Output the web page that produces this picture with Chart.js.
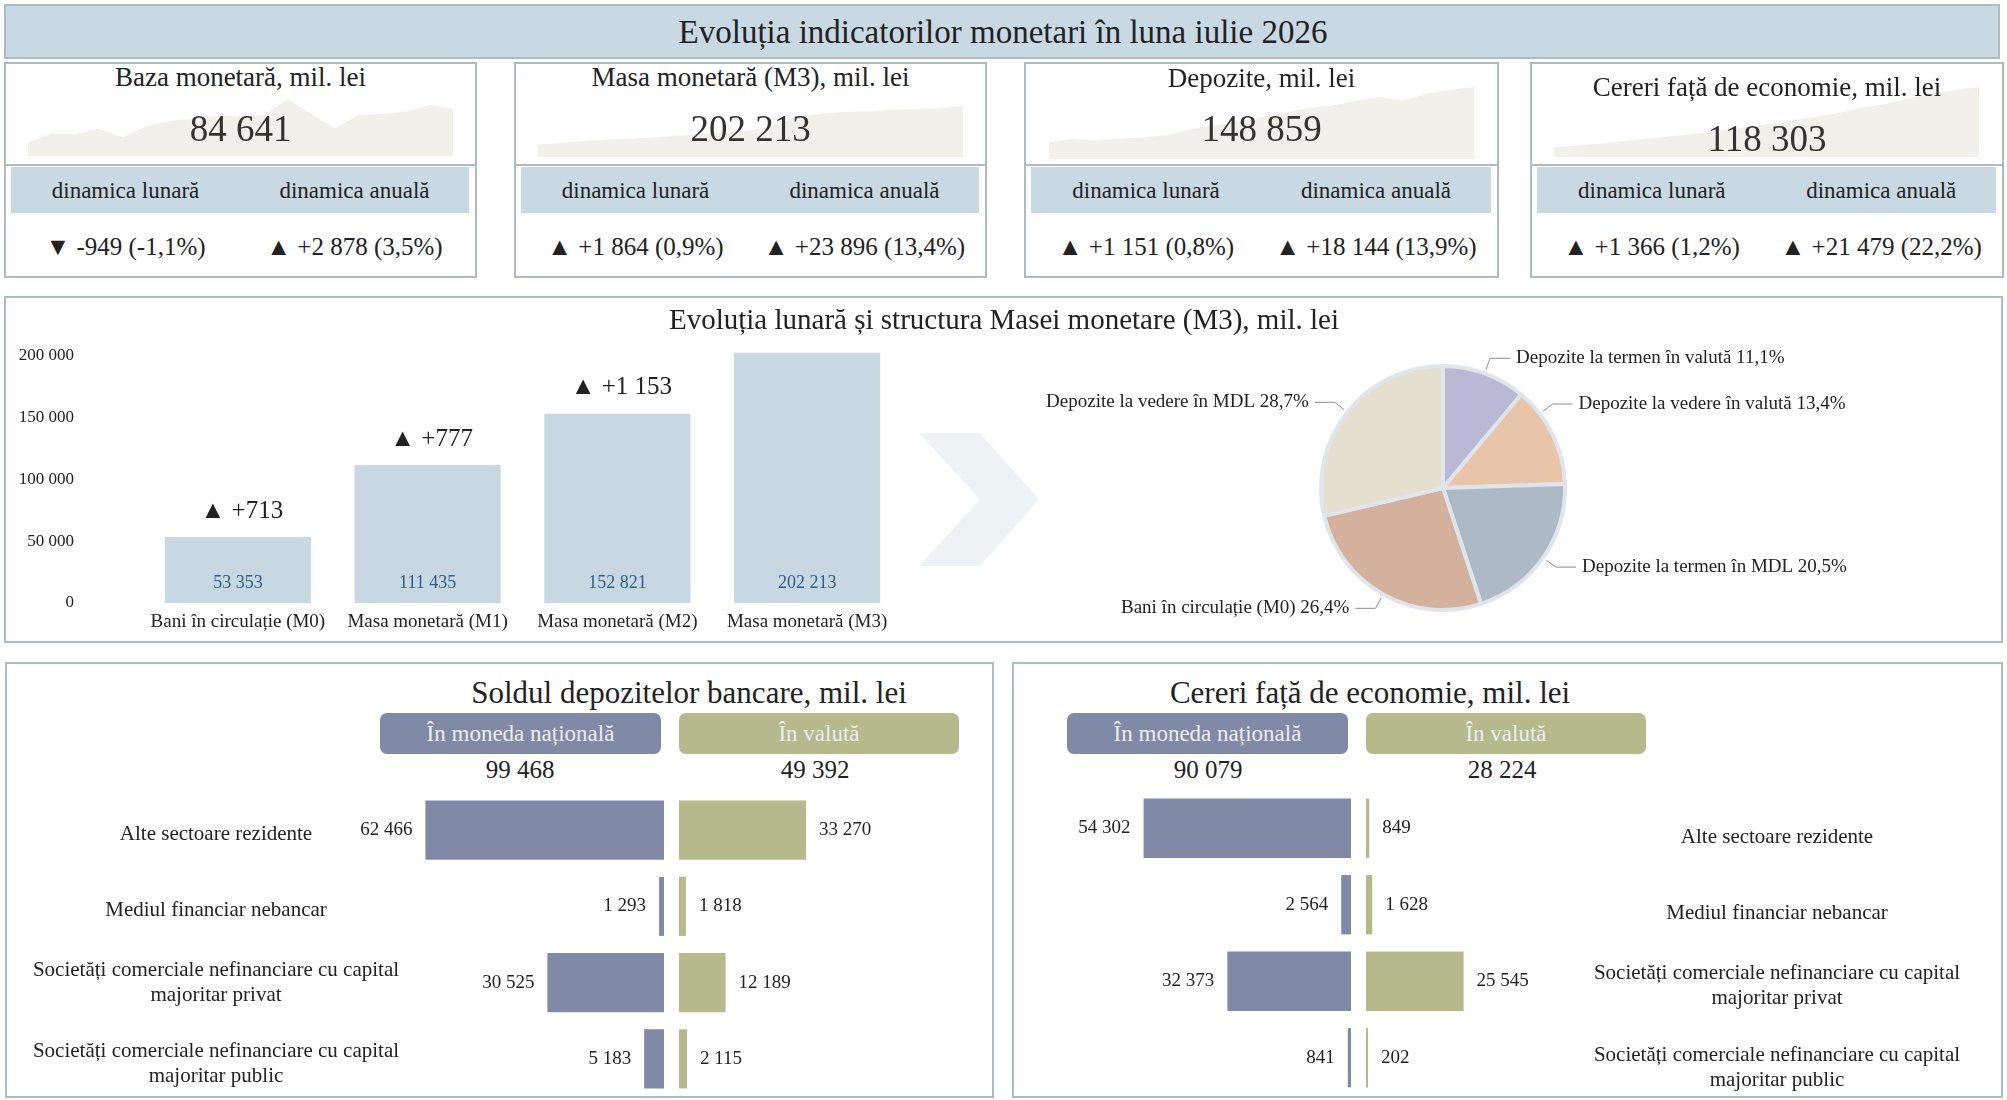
<!DOCTYPE html>
<html lang="ro">
<head>
<meta charset="UTF-8">
<title>Evoluția indicatorilor monetari</title>
<script src="https://cdn.jsdelivr.net/npm/chart.js"></script>
<style>
  body { margin:0; width:2007px; height:1100px; position:relative; overflow:hidden; background:#fff;
         font-family:"Liberation Serif","Times New Roman",serif; color:#222; }
  .abs { position:absolute; }
  .frame { position:absolute; border:2px solid #b0b9c6; box-sizing:border-box; }
  .ctr { position:absolute; text-align:center; white-space:nowrap; transform:translate(-50%,-50%); z-index:3; }
  .wrap { position:absolute; z-index:2; }
  .pill { position:absolute; border-radius:7px; color:#eceef3; font-size:23px; text-align:center; line-height:41px; height:41px; z-index:3; }
</style>
</head>
<body>

<div class="abs" style="left:4px;top:4px;width:1996px;height:55px;background:#c9d9e4;border:2px solid #b0b9c6;box-sizing:border-box;"></div>
<div class="ctr" style="left:1003px;top:32px;font-size:33px;">Evoluția indicatorilor monetari în luna iulie 2026</div>

<div id="kpis"></div>

<!-- structura M3 -->
<div class="frame" style="left:4px;top:296px;width:1999px;height:347px;"></div>
<div class="ctr" style="left:1004px;top:319px;font-size:29px;">Evoluția lunară și structura Masei monetare (M3), mil. lei</div>
<div class="wrap" style="left:10px;top:343px;width:892px;height:297px;"><canvas id="aggChart"></canvas></div>
<div class="abs" style="left:919px;top:433px;width:120px;height:133px;background:#edf2f5;
     clip-path:polygon(0 0,50.8% 0,100% 50%,50.8% 100%,0 100%,50.8% 50%);"></div>
<div class="wrap" style="left:1030px;top:330px;width:870px;height:310px;"><canvas id="pieChart"></canvas></div>

<!-- depozite -->
<div class="frame" style="left:5px;top:662px;width:989px;height:436px;"></div>
<div class="ctr" style="left:689px;top:693px;font-size:31px;">Soldul depozitelor bancare, mil. lei</div>
<div class="pill" style="left:380px;top:713px;width:281px;background:#8089a6;">În moneda națională</div>
<div class="pill" style="left:679px;top:713px;width:280px;background:#b6b98c;">În valută</div>
<div class="ctr" id="depTotN" style="left:520px;top:770px;font-size:25px;"></div>
<div class="ctr" id="depTotF" style="left:815px;top:770px;font-size:25px;"></div>
<div class="wrap" id="depN" style="left:20px;top:792px;width:644px;height:305px;"><canvas></canvas></div>
<div class="wrap" id="depF" style="left:679px;top:792px;width:300px;height:305px;"><canvas></canvas></div>

<!-- cereri -->
<div class="frame" style="left:1012px;top:662px;width:991px;height:436px;"></div>
<div class="ctr" style="left:1370px;top:693px;font-size:31px;">Cereri față de economie, mil. lei</div>
<div class="pill" style="left:1067px;top:713px;width:281px;background:#8089a6;">În moneda națională</div>
<div class="pill" style="left:1366px;top:713px;width:280px;background:#b6b98c;">În valută</div>
<div class="ctr" id="credTotN" style="left:1208px;top:770px;font-size:25px;"></div>
<div class="ctr" id="credTotF" style="left:1502px;top:770px;font-size:25px;"></div>
<div class="wrap" id="credN" style="left:1020px;top:790px;width:331px;height:306px;"><canvas></canvas></div>
<div class="wrap" id="credF" style="left:1366px;top:790px;width:630px;height:306px;"><canvas></canvas></div>

<script>
// ---- date ----
const months = ['ian.25','feb.25','mar.25','apr.25','mai.25','iun.25','iul.25','aug.25','sep.25','oct.25',
                'nov.25','dec.25','ian.26','feb.26','mar.26','apr.26','mai.26','iun.26','iul.26'];

const kpiTitles = ['Baza monetară, mil. lei', 'Masa monetară (M3), mil. lei', 'Depozite, mil. lei', 'Cereri față de economie, mil. lei'];
const kpiValues = [84641, 202213, 148859, 118303];
const monthlyChange = [-949, 1864, 1151, 1366];
const monthlyPct = [-1.1, 0.9, 0.8, 1.2];
const annualChange = [2878, 23896, 18144, 21479];
const annualPct = [3.5, 13.4, 13.9, 22.2];

// serii lunare (fundal)
const sparkBaza = [76640, 78800, 78560, 80000, 77840, 80560, 81763, 82400, 83040, 82960,
                   83200, 87040, 83520, 80000, 83200, 83440, 84000, 85590, 84641];
const sparkM3 = [170800, 172200, 173800, 174900, 175700, 176800, 178317, 179500, 180800, 182200,
                 186500, 193500, 196000, 197300, 197900, 199200, 199600, 200349, 202213];
const sparkDepozite = [124955, 126539, 125819, 126683, 127259, 128123, 130715, 132155, 134027, 135899,
                       137915, 139787, 140795, 142955, 144539, 143099, 145979, 147708, 148859];
const sparkCereri = [90403, 91333, 92263, 93348, 94588, 95673, 96824, 98153, 99548, 101098,
                     102803, 104353, 106213, 108693, 110398, 113033, 115203, 116937, 118303];

const aggLabels = ['Bani în circulație (M0)', 'Masa monetară (M1)', 'Masa monetară (M2)', 'Masa monetară (M3)'];
const aggValues = [53353, 111435, 152821, 202213];
const aggDelta = [713, 777, 1153, null];
const aggTicks = [0, 50000, 100000, 150000, 200000];

const structLabels = ['Depozite la termen în valută', 'Depozite la vedere în valută', 'Depozite la termen în MDL',
                      'Bani în circulație (M0)', 'Depozite la vedere în MDL'];
const structShares = [11.1, 13.4, 20.5, 26.4, 28.7];

const sectors = ['Alte sectoare rezidente', 'Mediul financiar nebancar',
                 ['Societăți comerciale nefinanciare cu capital', 'majoritar privat'],
                 ['Societăți comerciale nefinanciare cu capital', 'majoritar public']];
const depNational = [62466, 1293, 30525, 5183];
const depForeign = [33270, 1818, 12189, 2115];
const depTotals = [99468, 49392];
const credNational = [54302, 2564, 32373, 841];
const credForeign = [849, 1628, 25545, 202];
const credTotals = [90079, 28224];

// ---- stil ----
const SERIF = '"Liberation Serif", "Times New Roman", serif';
const structColors = ['#b9b9d5', '#e8c4a9', '#adbac6', '#d4b19c', '#e4dfcf'];
const labelAngleShift = [0, -11.5, 0, 0, 0];   // grade, doar pentru asezarea etichetelor
const PX_PER_UNIT = 0.00382;

Chart.defaults.font.family = SERIF;
Chart.defaults.color = '#222';
Chart.defaults.animation = false;
Chart.defaults.plugins.legend.display = false;
Chart.defaults.plugins.tooltip.enabled = false;

function fmt(n) {
  return Math.abs(n).toString().replace(/\B(?=(\d{3})+(?!\d))/g, ' ');
}
function pct(p) {
  return (p < 0 ? '-' : '') + Math.abs(p).toFixed(1).replace('.', ',');
}
function change(n, p) {
  return n < 0 ? '▼ -' + fmt(n) + ' (' + pct(p) + '%)' : '▲ +' + fmt(n) + ' (' + pct(p) + '%)';
}

// ---- carduri sus ----
const boxes = [
  {left:4, width:473, titleY:77, numY:128, spark:{x:28, y:99, w:425, h:57, min:73440, max:87040}, data:sparkBaza},
  {left:514, width:473, titleY:77, numY:128, spark:{x:538, y:106, w:425, h:51, min:160750, max:202213}, data:sparkM3},
  {left:1024, width:475, titleY:78, numY:128, spark:{x:1049, y:87, w:425, h:72, min:117899, max:148859}, data:sparkDepozite},
  {left:1530, width:474, titleY:87, numY:138, spark:{x:1554, y:87, w:425, h:70, min:86063, max:118303}, data:sparkCereri}
];

const kpis = document.getElementById('kpis');
boxes.forEach(function(b, i) {
  const cx = b.left + b.width / 2;
  let h = '';
  h += '<div class="frame" style="left:' + b.left + 'px;top:62px;width:' + b.width + 'px;height:104px;"></div>';
  h += '<div class="frame" style="left:' + b.left + 'px;top:164px;width:' + b.width + 'px;height:114px;"></div>';
  h += '<div class="abs" style="left:' + (b.left + 7) + 'px;top:167px;width:' + (b.width - 15) + 'px;height:46px;background:#c9d9e4;"></div>';
  h += '<div class="wrap" style="left:' + b.spark.x + 'px;top:' + b.spark.y + 'px;width:' + b.spark.w + 'px;height:' + b.spark.h + 'px;"><canvas id="spark' + i + '"></canvas></div>';
  h += '<div class="ctr" style="left:' + cx + 'px;top:' + b.titleY + 'px;font-size:27px;">' + kpiTitles[i] + '</div>';
  h += '<div class="ctr" style="left:' + cx + 'px;top:' + b.numY + 'px;font-size:37px;color:#333;">' + fmt(kpiValues[i]) + '</div>';
  const q = (b.width - 15) / 4;
  h += '<div class="ctr" style="left:' + (b.left + 7 + q) + 'px;top:191px;font-size:23px;">dinamica lunară</div>';
  h += '<div class="ctr" style="left:' + (b.left + 7 + 3 * q) + 'px;top:191px;font-size:23px;">dinamica anuală</div>';
  h += '<div class="ctr" style="left:' + (b.left + 7 + q) + 'px;top:247px;font-size:25px;">' + change(monthlyChange[i], monthlyPct[i]) + '</div>';
  h += '<div class="ctr" style="left:' + (b.left + 7 + 3 * q) + 'px;top:247px;font-size:25px;">' + change(annualChange[i], annualPct[i]) + '</div>';
  kpis.insertAdjacentHTML('beforeend', h);
});

boxes.forEach(function(b, i) {
  new Chart(document.getElementById('spark' + i), {
    type: 'line',
    data: { labels: months, datasets: [{ data: b.data, fill: 'start', backgroundColor: '#f1f0ea',
            borderWidth: 0, pointRadius: 0, tension: 0 }] },
    options: { responsive: true, maintainAspectRatio: false, layout: { padding: 0 },
      scales: { x: { display: false }, y: { display: false, min: b.spark.min, max: b.spark.max } } }
  });
});

// ---- agregate monetare ----
const aggLabelsPlugin = {
  id: 'aggLabels',
  afterDatasetsDraw(chart) {
    const ctx = chart.ctx;
    chart.getDatasetMeta(0).data.forEach(function(bar, i) {
      ctx.save();
      ctx.textAlign = 'center';
      ctx.textBaseline = 'middle';
      ctx.font = '18px ' + SERIF;
      ctx.fillStyle = '#2d5e8e';
      ctx.fillText(fmt(aggValues[i]), bar.x, bar.base - 20);
      if (aggDelta[i] !== null) {
        ctx.font = '25px ' + SERIF;
        ctx.fillStyle = '#222';
        ctx.fillText((aggDelta[i] >= 0 ? '▲ +' : '▼ -') + fmt(aggDelta[i]), bar.x + 4, bar.y - 26);
      }
      ctx.restore();
    });
  }
};

new Chart(document.getElementById('aggChart'), {
  type: 'bar',
  data: { labels: aggLabels, datasets: [{ data: aggValues, backgroundColor: '#c8d8e2',
          barPercentage: 0.77, categoryPercentage: 1 }] },
  options: {
    responsive: true, maintainAspectRatio: false, layout: { padding: 0 },
    scales: {
      x: { grid: { display: false, drawTicks: false }, border: { display: false },
           ticks: { font: { size: 19 }, padding: 8, autoSkip: false, maxRotation: 0 },
           afterFit(s) { s.height = 37; s.paddingLeft = 0; s.paddingRight = 0; } },
      y: { min: 0, max: 210000, grid: { display: false, drawTicks: false }, border: { display: false },
           ticks: { font: { size: 17 }, padding: 69, includeBounds: false, callback: v => fmt(v) },
           afterBuildTicks(s) { s.ticks = aggTicks.map(v => ({ value: v })); },
           afterFit(s) { s.width = 133; s.paddingTop = 0; s.paddingBottom = 0; } }
    }
  },
  plugins: [aggLabelsPlugin]
});

// ---- structura M3 ----
const pieLabelsPlugin = {
  id: 'pieLabels',
  afterDatasetsDraw(chart) {
    const ctx = chart.ctx;
    chart.getDatasetMeta(0).data.forEach(function(arc, i) {
      const p = arc.getProps(['x', 'y', 'startAngle', 'endAngle', 'outerRadius'], true);
      const a = (p.startAngle + p.endAngle) / 2 + labelAngleShift[i] * Math.PI / 180;
      const c = Math.cos(a), s = Math.sin(a);
      const x0 = p.x + (p.outerRadius + 4) * c, y0 = p.y + (p.outerRadius + 4) * s;
      const x1 = p.x + (p.outerRadius + 16) * c, y1 = p.y + (p.outerRadius + 16) * s;
      const dir = c >= 0 ? 1 : -1;
      const x2 = x1 + dir * 20;
      ctx.save();
      ctx.strokeStyle = '#8c8c8c';
      ctx.lineWidth = 1;
      ctx.beginPath();
      ctx.moveTo(x0, y0); ctx.lineTo(x1, y1); ctx.lineTo(x2, y1);
      ctx.stroke();
      ctx.font = '19px ' + SERIF;
      ctx.fillStyle = '#222';
      ctx.textBaseline = 'middle';
      ctx.textAlign = dir > 0 ? 'left' : 'right';
      ctx.fillText(structLabels[i] + ' ' + pct(structShares[i]) + '%', x2 + dir * 6, y1);
      ctx.restore();
    });
  }
};

new Chart(document.getElementById('pieChart'), {
  type: 'pie',
  data: { labels: structLabels, datasets: [{ data: structShares, backgroundColor: structColors,
          borderColor: '#dfe5eb', borderWidth: 4, hoverOffset: 0 }] },
  options: { responsive: true, maintainAspectRatio: false,
             layout: { padding: { left: 289, right: 333, top: 34, bottom: 28 } } },
  plugins: [pieLabelsPlugin]
});

// ---- grafice fluture ----
function sideChart(id, values, color, reverse, catX, catDy) {
  const wrap = document.getElementById(id);
  const w = wrap.clientWidth;
  const plugin = {
    id: 'side' + id,
    afterDatasetsDraw(chart) {
      const ctx = chart.ctx;
      chart.getDatasetMeta(0).data.forEach(function(bar, i) {
        ctx.save();
        ctx.font = '19px ' + SERIF;
        ctx.fillStyle = '#222';
        ctx.textBaseline = 'middle';
        ctx.textAlign = reverse ? 'right' : 'left';
        ctx.fillText(fmt(values[i]), bar.x + (reverse ? -13 : 13), bar.y);
        if (catX !== null) {
          ctx.font = '21px ' + SERIF;
          ctx.textAlign = 'center';
          const lines = Array.isArray(sectors[i]) ? sectors[i] : [sectors[i]];
          const y0 = (lines.length > 1 ? bar.y - 12.5 : bar.y + 4) + catDy + (i === 3 ? 5 : 0);
          lines.forEach(function(t, k) { ctx.fillText(t, catX, y0 + k * 25); });
        }
        ctx.restore();
      });
    }
  };
  new Chart(wrap.querySelector('canvas'), {
    type: 'bar',
    data: { labels: sectors, datasets: [{ data: values, backgroundColor: color,
            barPercentage: 0.775, categoryPercentage: 1, minBarLength: 2 }] },
    options: { indexAxis: 'y', responsive: true, maintainAspectRatio: false, layout: { padding: 0 },
      scales: { x: { display: false, min: 0, max: w / PX_PER_UNIT, reverse: reverse },
                y: { display: false } } },
    plugins: [plugin]
  });
}

sideChart('depN', depNational, '#8089a6', true, 196, 0);
sideChart('depF', depForeign, '#b6b98c', false, null, 0);
sideChart('credN', credNational, '#8089a6', true, null, 0);
sideChart('credF', credForeign, '#b6b98c', false, 411, 5);

document.getElementById('depTotN').textContent = fmt(depTotals[0]);
document.getElementById('depTotF').textContent = fmt(depTotals[1]);
document.getElementById('credTotN').textContent = fmt(credTotals[0]);
document.getElementById('credTotF').textContent = fmt(credTotals[1]);
</script>
</body>
</html>
